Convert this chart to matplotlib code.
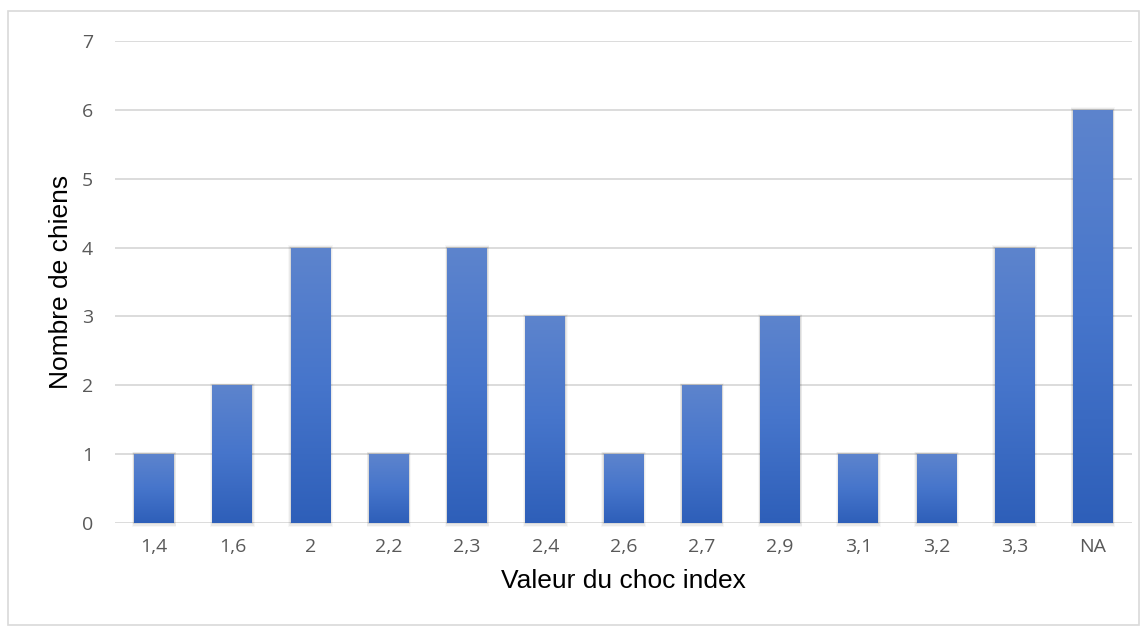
import numpy as np
import matplotlib
matplotlib.use("Agg")
import matplotlib.pyplot as plt
from matplotlib.patches import Rectangle
from matplotlib.colors import LinearSegmentedColormap

categories = ["1,4", "1,6", "2", "2,2", "2,3", "2,4", "2,6", "2,7", "2,9", "3,1", "3,2", "3,3", "NA"]
counts = [1, 2, 4, 1, 4, 3, 1, 2, 3, 1, 1, 4, 6]

fig = plt.figure(figsize=(11.47, 6.32), dpi=100)
ax = fig.add_axes([0.1003, 0.1725, 0.8867, 0.7625])

# outer chart border
fig.patches.append(Rectangle((8 / 1147, 7 / 632), 1131 / 1147, 614 / 632,
                             transform=fig.transFigure, fill=False,
                             edgecolor="#d9d9d9", linewidth=1.2))

ax.yaxis.grid(True, color="#d9d9d9", linewidth=1.3)
ax.set_axisbelow(True)
for s in ax.spines.values():
    s.set_visible(False)
ax.tick_params(length=0, labelsize=14, labelcolor="#595959")
ax.tick_params(axis="y", pad=16)
ax.tick_params(axis="x", pad=11)

cmap = LinearSegmentedColormap.from_list("bar", ["#2e5fb9", "#4675cb", "#5d84cd"])
grad = np.linspace(0, 1, 256).reshape(-1, 1)
width = 0.51
x = np.arange(len(categories))
bars = ax.bar(x, counts, width=width, color="none", zorder=3)
for xi, h, b in zip(x, counts, bars):
    # soft shadow round the bar
    for k, a in enumerate([0.07, 0.05, 0.03]):
        d = 0.01 * (k + 1)
        ax.add_patch(Rectangle((xi - width / 2 - d, -0.02 * (k + 1)), width + 2 * d,
                               h + d * 1.2 + 0.02 * (k + 1),
                               facecolor="#000000", alpha=a, edgecolor="none",
                               zorder=2, clip_on=False))
    im = ax.imshow(grad, cmap=cmap, aspect="auto", origin="lower",
                   extent=(xi - width / 2, xi + width / 2, 0, h), zorder=3)
    im.set_clip_path(b)

ax.set_xticks(x)
ax.set_xticklabels(categories)
ax.set_yticks(range(0, 8))
ax.set_xlim(-0.5, len(categories) - 0.5)
ax.set_ylim(0, 7)
ax.set_xlabel("Valeur du choc index", fontsize=19, family="Liberation Sans", labelpad=9)
ax.set_ylabel("Nombre de chiens", fontsize=19, family="Liberation Sans", labelpad=6)
for lab in ax.get_xticklabels() + ax.get_yticklabels():
    lab.set_family("Open Sans")

fig.savefig("out.png", dpi=100)
